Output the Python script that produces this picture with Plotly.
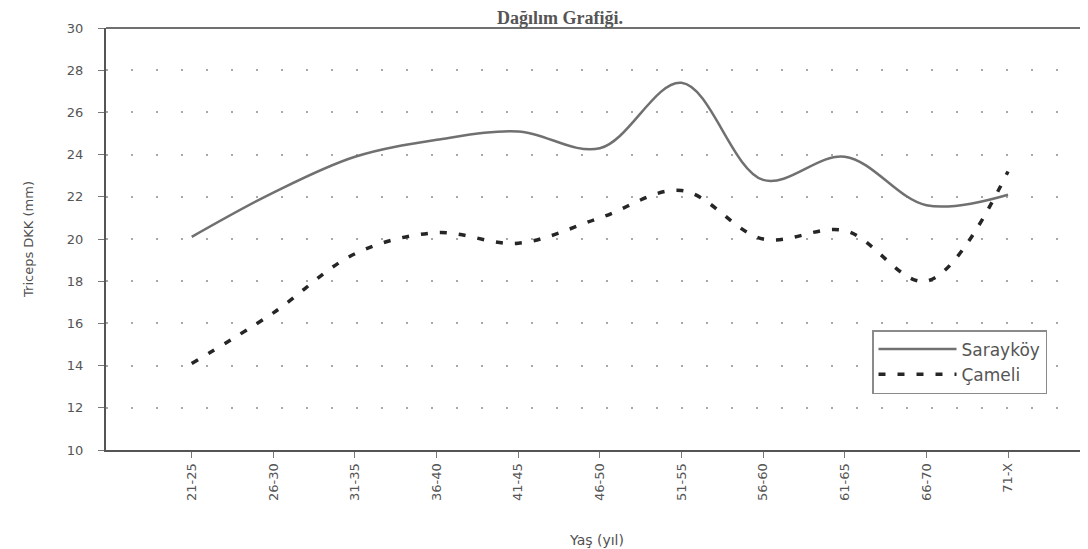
import plotly.graph_objects as go

categories = ["21-25", "26-30", "31-35", "36-40", "41-45", "46-50",
              "51-55", "56-60", "61-65", "66-70", "71-X"]
saraykoy = [20.1, 22.2, 23.9, 24.7, 25.1, 24.3, 27.4, 22.8, 23.9, 21.6, 22.1]
cameli = [14.1, 16.5, 19.3, 20.3, 19.8, 21.0, 22.3, 20.0, 20.4, 18.0, 23.2]
y_ticks = [10, 12, 14, 16, 18, 20, 22, 24, 26, 28, 30]

W, H = 1088, 549
OFF = 8  # page body margin
L, T = 106 - OFF, 28 - OFF
R = W - (1088 - OFF)
B = H - (450 - OFF)
PW, PH = W - L - R, H - T - B

fig = go.Figure()
fig.add_trace(go.Scatter(
    x=categories, y=saraykoy, name="Sarayköy", mode="lines",
    line=dict(color="#707070", width=2.5, shape="spline", smoothing=1.0)))
fig.add_trace(go.Scatter(
    x=categories, y=cameli, name="Çameli", mode="lines",
    line=dict(color="#262626", width=3.5, dash="7px,12px", shape="spline", smoothing=1.0)))

fig.update_layout(
    width=W, height=H,
    margin=dict(l=L, r=R, t=T, b=B, autoexpand=False),
    paper_bgcolor="white", plot_bgcolor="white",
    font=dict(family="DejaVu Sans", color="#505050"),
    showlegend=True,
    legend=dict(x=(872 - 106) / PW, y=(450 - 330) / PH,
                xanchor="left", yanchor="top",
                bordercolor="#8a8a8a", borderwidth=1.5, bgcolor="white",
                font=dict(size=17, color="#555555"),
                itemwidth=78, tracegroupgap=0),
    xaxis=dict(
        type="category", categoryorder="array", categoryarray=categories,
        range=[-1.05, 10.98], automargin=False,
        showline=True, linecolor="#555555", linewidth=2,
        ticks="outside", ticklen=6, tickcolor="#777777",
        tickangle=-90, tickfont=dict(size=13, color="#555555"),
        showgrid=False, zeroline=False,
        title=dict(text="Yaş (yıl)", font=dict(size=14, color="#505050"), standoff=35),
    ),
    yaxis=dict(
        range=[10, 30], tickvals=y_ticks, automargin=False,
        showline=True, linecolor="#555555", linewidth=2,
        ticks="outside", ticklen=6, tickcolor="#777777",
        ticklabelstandoff=12,
        tickfont=dict(size=13, color="#555555"),
        showgrid=True, gridcolor="#a8a8a8", gridwidth=1.5, griddash="2px,23px",
        zeroline=False,
        title=dict(text="Triceps DKK (mm)", font=dict(size=13, color="#505050"), standoff=30),
    ),
)

# top border of plot area
fig.add_shape(type="line", xref="paper", yref="paper", x0=0, x1=1, y0=1, y1=1,
              line=dict(color="#707070", width=2))

# title at the very top
fig.add_annotation(text="<b>Dağılım Grafiği.</b>", xref="paper", yref="paper",
                   x=(560 - 106) / PW, y=1 + (T - 10) / PH,
                   xanchor="center", yanchor="middle", showarrow=False,
                   font=dict(family="Liberation Serif", size=18, color="#555555"))

fig.write_html("out.html")
